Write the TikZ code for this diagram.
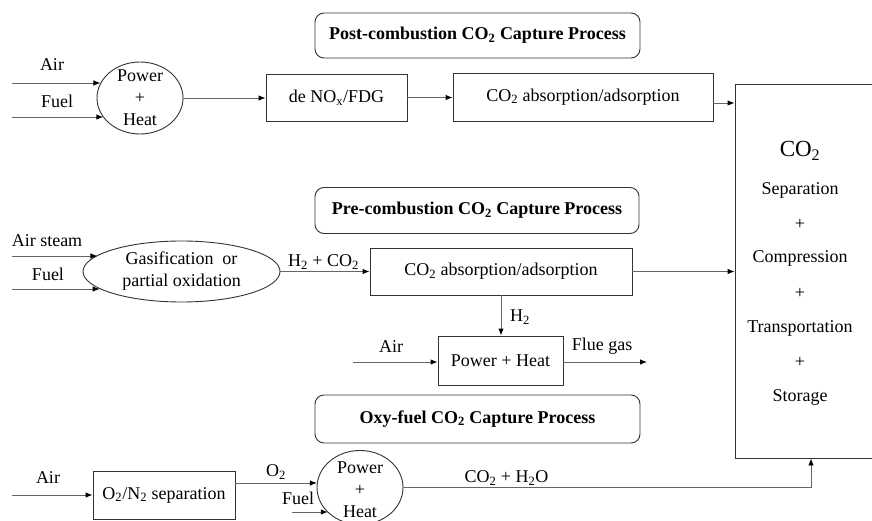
\documentclass[tikz,border=0pt]{standalone}
\usepackage{fontspec}
\setmainfont{Liberation Serif}
\usetikzlibrary{arrows.meta,shapes.geometric,calc}
\begin{document}
\begin{tikzpicture}[x=1pt,y=-1pt,
  every node/.style={font=\fontsize{18}{22}\selectfont, inner sep=0pt},
  box/.style={draw=black!80, line width=0.9pt, rectangle},
  title/.style={draw=black!80, line width=0.9pt, rounded corners=9pt, font=\fontsize{18}{22}\selectfont\bfseries},
  conn/.style={draw=black!60, line width=0.9pt, -{Latex[length=7pt,width=5.5pt,color=black]}},
  ell/.style={ellipse, draw=black!80, line width=0.9pt, inner sep=0pt}]
\useasboundingbox (0,0) rectangle (872,521);

% ---------- Post-combustion ----------
\node[title, minimum width=325pt, minimum height=45pt] (t1) at (477.5,35.5) {Post-combustion CO\textsubscript{2} Capture Process};
\node[ell, minimum width=86pt, minimum height=72pt] (c1) at (140,98) {};
\node[align=center] (c1t) at (140,98) {Power\\+\\Heat};
\node (air1) at (52,65) {Air};
\node (fuel1) at (57,101) {Fuel};
\coordinate (a1s) at (12,83);
\coordinate (f1s) at (12,117);
\draw[conn] (a1s) -- (c1.159 |- a1s);
\draw[conn] (f1s) -- (c1.208 |- f1s);
\node[box, minimum width=141pt, minimum height=47pt] (denox) at (336.5,97.5) {de NO\textsubscript{x}/FDG};
\draw[conn] (c1.east) -- (c1.east -| denox.west);
\node[box, minimum width=260pt, minimum height=48pt] (abs1) at (583,97) {CO\textsubscript{2} absorption/adsorption};
\draw[conn] (denox.east) -- (denox.east -| abs1.west);

% ---------- big box ----------
\node[box, minimum width=145pt, minimum height=374pt] (big) at (807.5,271) {};
\node[font=\fontsize{23}{26}\selectfont] (bco2) at (800,151) {CO\textsubscript{2}};
\node (bsep) at (800,190) {Separation};
\node (bp1) at (800,224) {+};
\node (bcomp) at (800,258) {Compression};
\node (bp2) at (800,293) {+};
\node (btr) at (800,328) {Transportation};
\node (bp3) at (800,362) {+};
\node (bst) at (800,397) {Storage};
\draw[conn] ([yshift=-6pt]abs1.east) -- ([yshift=-6pt]abs1.east -| big.west);

% ---------- Pre-combustion ----------
\node[title, minimum width=324pt, minimum height=46pt] (t2) at (477,210.5) {Pre-combustion CO\textsubscript{2} Capture Process};
\node[ell, minimum width=197pt, minimum height=61pt] (e2) at (181.5,271.5) {};
\node[align=center] (e2t) at (181.5,271) {Gasification\ \ or\\partial oxidation};
\node (air2) at (47,241) {Air steam};
\node (fuel2) at (48,274) {Fuel};
\coordinate (a2s) at (12,256);
\coordinate (f2s) at (12,289);
\draw[conn] (a2s) -- (e2.169.6 |- a2s);
\draw[conn] (f2s) -- (e2.192.2 |- f2s);
\node[box, minimum width=262pt, minimum height=47pt] (abs2) at (501,271.5) {CO\textsubscript{2} absorption/adsorption};
\draw[conn] (e2.east) -- (e2.east -| abs2.west);
\node (h2co2) at (323.5,262) {H\textsubscript{2} + CO\textsubscript{2}};
\draw[conn] (abs2.east) -- (abs2.east -| big.west);
\node[box, minimum width=125pt, minimum height=49pt] (ph2) at (500.5,360.5) {Power + Heat};
\draw[conn] (abs2.south) -- (abs2.south |- ph2.north);
\node (h2) at (520,317) {H\textsubscript{2}};
\coordinate (a3s) at (353,362);
\draw[conn] (a3s) -- (a3s -| ph2.west);
\node (air3) at (391,347) {Air};
\coordinate (fg) at (647,362);
\draw[conn] (ph2.east |- fg) -- (fg);
\node (flue) at (602,346) {Flue gas};

% ---------- Oxy-fuel ----------
\node[title, minimum width=325pt, minimum height=48pt] (t3) at (477.5,419) {Oxy-fuel CO\textsubscript{2} Capture Process};
\node[box, minimum width=142pt, minimum height=48pt] (sep) at (164,495) {O\textsubscript{2}/N\textsubscript{2} separation};
\coordinate (a4s) at (12,495);
\draw[conn] (a4s) -- (sep.west);
\node (air4) at (48,478) {Air};
\node[ell, minimum width=86pt, minimum height=74pt] (c3) at (360,487.5) {};
\node[align=center] (c3t) at (360,489.5) {Power\\+\\Heat};
\coordinate (o2s) at ([yshift=12pt]sep.east);
\draw[conn] (o2s) -- (c3.174.7 |- o2s);
\node (o2) at (276,472) {O\textsubscript{2}};
\coordinate (f4s) at (292,512);
\draw[conn] (f4s) -- (c3.218.3 |- f4s);
\node (fuel4) at (298,498) {Fuel};
\draw[conn] (c3.east) -| ([xshift=3.5pt]big.south);
\node (co2h2o) at (506.5,478) {CO\textsubscript{2} + H\textsubscript{2}O};
\end{tikzpicture}
\end{document}
